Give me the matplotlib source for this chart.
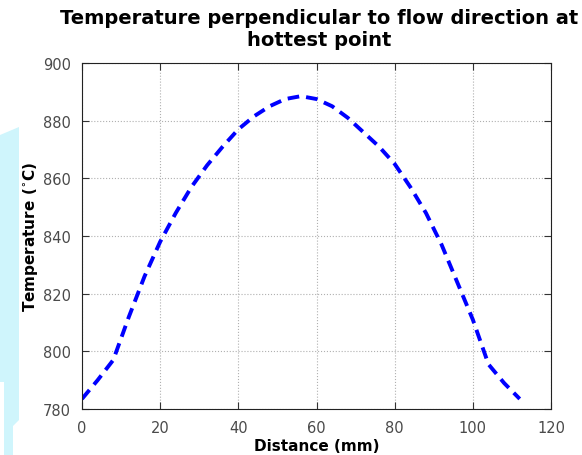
import matplotlib.pyplot as plt
from matplotlib.patches import Polygon

distance = [0, 4, 8, 12, 16, 20, 24, 28, 32, 36, 40, 44, 48, 52, 56,
            60, 64, 68, 72, 76, 80, 84, 88, 92, 96, 100, 104, 108, 112]
temperature = [783.5, 790, 797, 812, 826, 838, 848, 857, 864.5, 871, 877,
               881.5, 885, 887.5, 888.5, 887.5, 885, 881, 876, 871, 865,
               857, 848, 837, 824, 811, 795.5, 789, 783.5]

x_ticks = [0, 20, 40, 60, 80, 100, 120]
y_ticks = [780, 800, 820, 840, 860, 880, 900]

W, H = 582, 456
fig = plt.figure(figsize=(W / 100, H / 100), dpi=100)

# light cyan shape at the left edge of the screenshot
shape = [(0, 136), (19, 128), (19, 421), (13, 427), (13, 456), (4, 456), (4, 383), (0, 383)]
fig.patches.append(Polygon([(x / W, 1 - y / H) for x, y in shape], closed=True,
                           transform=fig.transFigure, facecolor="#cff5fc",
                           edgecolor="none", zorder=0))

ax = fig.add_axes([82 / W, 1 - 410 / H, (551 - 82) / W, (410 - 64) / H])
ax.plot(distance, temperature, color="#0000ff", linewidth=2.8, dashes=[3.0, 1.8])

ax.set_xlim(0, 120)
ax.set_ylim(780, 900)
ax.set_xticks(x_ticks)
ax.set_yticks(y_ticks)
ax.grid(True, linestyle=":", color="#b0b0b0", linewidth=0.8)
ax.tick_params(direction="in", top=True, right=True, length=5, color="#333333",
               labelsize=10.5, labelcolor="#4a4a4a", pad=8)
for s in ax.spines.values():
    s.set_color("#222222")

fig.text(319 / W, 1 - 9 / H,
         "Temperature perpendicular to flow direction at\nhottest point",
         fontsize=14, fontweight="bold", ha="center", va="top", linespacing=1.2)
ax.set_xlabel("Distance (mm)", fontsize=11, fontweight="bold", labelpad=2)
ax.set_ylabel("Temperature ($^{\\circ}$C)", fontsize=11, fontweight="bold", labelpad=2)

plt.savefig("out.png", dpi=100)
